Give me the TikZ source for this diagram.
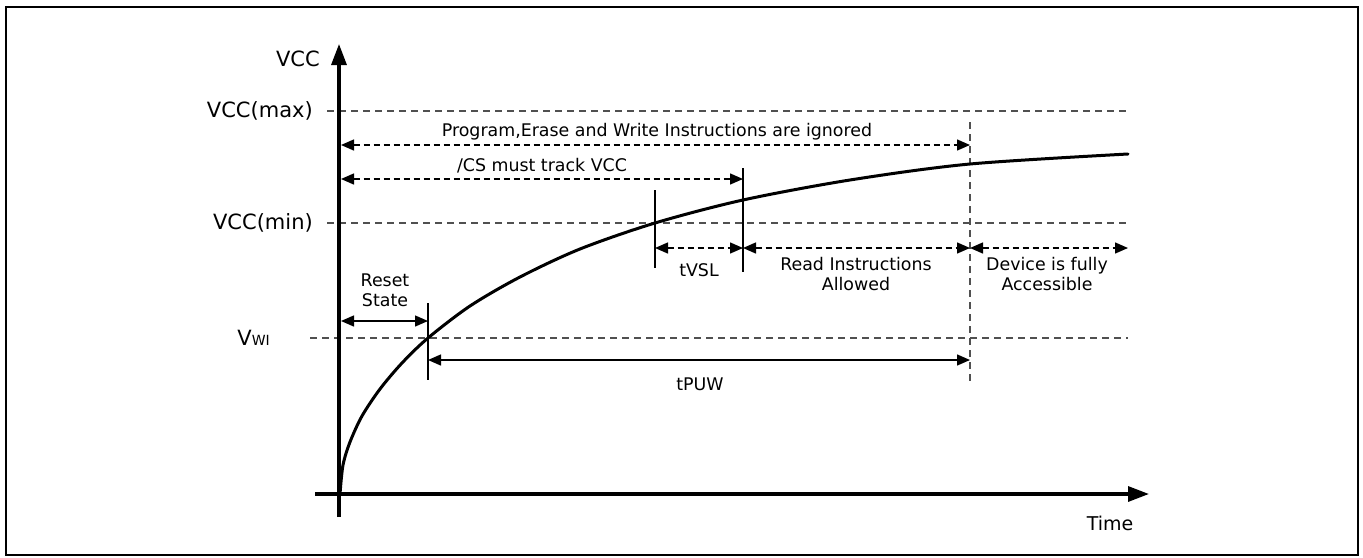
\documentclass[tikz,border=0pt]{standalone}
\usepackage{fontspec}
\setmainfont{DejaVu Sans}
\usetikzlibrary{arrows.meta}
\definecolor{dashgray}{HTML}{505050}
\tikzset{
  big/.style={font=\fontsize{21}{25}\selectfont, inner sep=0pt},
  lbl/.style={font=\fontsize{17.4}{20}\selectfont, inner sep=0pt, align=center},
  axisline/.style={line width=3.2pt, -{Triangle[length=21pt,width=15pt]}},
  guide/.style={dashgray, line width=1.2pt, dash pattern=on 7pt off 5pt},
  marker/.style={line width=1.3pt},
  dimarrow/.style={line width=1.4pt, {Triangle[length=13pt,width=11pt]}-{Triangle[length=13pt,width=11pt]}},
  ddimarrow/.style={dimarrow, dash pattern=on 6pt off 4pt},
  curve/.style={line width=3pt, line join=round, line cap=round}
}
\begin{document}
\begin{tikzpicture}[x=1pt, y=-1pt]
\useasboundingbox (0,0) rectangle (1363,557);
\draw[line width=2.2pt] (6,7) rectangle (1358,555);

% key coordinates
\coordinate (yb) at (339,517);
\coordinate (yt) at (339,44);
\coordinate (xl) at (315,494);
\coordinate (xr) at (1149,494);
\coordinate (maxL) at (327,111);   \coordinate (maxR) at (1128,111);
\coordinate (minL) at (327,223);   \coordinate (minR) at (1128,223);
\coordinate (vwiL) at (310,338);   \coordinate (vwiR) at (1128,338);
\coordinate (dvT) at (970,122);    \coordinate (dvB) at (970,382);
\coordinate (m1T) at (655,190);    \coordinate (m1B) at (655,268);
\coordinate (m2T) at (743,168);    \coordinate (m2B) at (743,272);
\coordinate (m3T) at (428,303);    \coordinate (m3B) at (428,380);
\coordinate (pA) at (341,145);     \coordinate (pB) at (970,145);
\coordinate (cA) at (341,179);     \coordinate (cB) at (743,179);
\coordinate (t1) at (655,248);     \coordinate (t2) at (743,248);
\coordinate (t3) at (970,248);     \coordinate (t4) at (1128,248);
\coordinate (rA) at (341,321);     \coordinate (rB) at (428,321);
\coordinate (uA) at (428,360);     \coordinate (uB) at (970,360);

% guide lines
\draw[guide] (maxL) -- (maxR);
\draw[guide] (minL) -- (minR);
\draw[guide] (vwiL) -- (vwiR);
\draw[guide] (dvT) -- (dvB);

% axes
\draw[line width=3.2pt] (yb) -- (339,494);
\draw[axisline] (339,494) -- (yt);
\draw[axisline] (xl) -- (xr);

% curve (offsets from origin 340,494)
\draw[curve, shift={(340,494)}] plot[smooth, tension=0.5] coordinates {(0,0) (3,-29) (10,-52) (22,-78) (40,-105) (62,-131) (88,-156) (130,-188) (180,-217) (240,-245) (315,-271) (403,-294) (510,-314) (630,-330) (788,-340)};

% markers
\draw[marker] (m1T) -- (m1B);
\draw[marker] (m2T) -- (m2B);
\draw[marker] (m3T) -- (m3B);

% dimension arrows
\draw[ddimarrow] (pA) -- (pB);
\draw[ddimarrow] (cA) -- (cB);
\draw[ddimarrow] (t1) -- (t2);
\draw[ddimarrow] (t2) -- (t3);
\draw[ddimarrow] (t3) -- (t4);
\draw[dimarrow] (rA) -- (rB);
\draw[dimarrow] (uA) -- (uB);

% labels
\node[big, anchor=east] (lvcc) at (320,59) {VCC};
\node[big, anchor=east] (lmax) at (313,111) {VCC(max)};
\node[big, anchor=east] (lmin) at (313,223) {VCC(min)};
\node[big, anchor=base east] (lvwi) at (270,345) {V{\fontsize{14}{14}\selectfont WI}};
\node[lbl] (lprog) at (657,132) {Program,Erase and Write Instructions are ignored};
\node[lbl] (lcs) at (542,166) {/CS must track VCC};
\node[lbl] (ltvsl) at (699,270) {tVSL};
\node[lbl] (lread) at (856,274) {Read Instructions\\Allowed};
\node[lbl] (ldev) at (1047,274) {Device is fully\\Accessible};
\node[lbl] (lreset) at (385,290) {Reset\\State};
\node[lbl] (ltpuw) at (700,384) {tPUW};
\node[big, font=\fontsize{19}{22}\selectfont] (ltime) at (1110,523) {Time};
\end{tikzpicture}
\end{document}
